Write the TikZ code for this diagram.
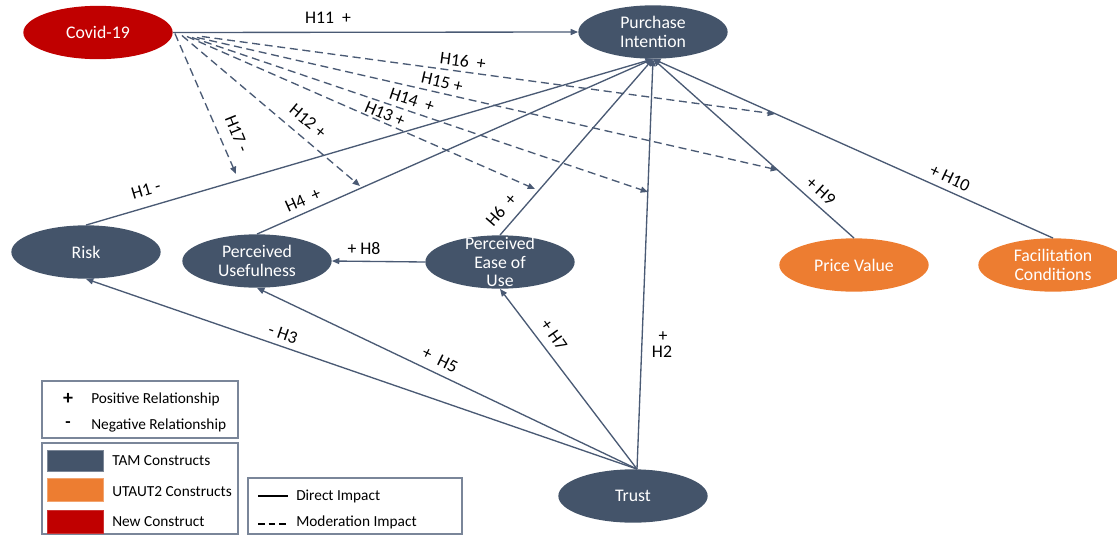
\documentclass[tikz,border=0pt]{standalone}
\usepackage{fontspec}
\setmainfont{Carlito}
\usetikzlibrary{shapes.geometric,arrows.meta,calc}
\definecolor{tamc}{HTML}{44546A}
\definecolor{utautc}{HTML}{ED7D31}
\definecolor{newcc}{HTML}{C00000}
\definecolor{edgec}{HTML}{4A5A74}
\definecolor{legc}{HTML}{7A8699}
\begin{document}
\begin{tikzpicture}[x=0.75pt,y=-0.75pt,
  every node/.style={inner sep=0pt},
  construct/.style={ellipse, minimum width=112pt, minimum height=40pt, text=white, align=center, font=\fontsize{13.3}{14}\selectfont},
  tam/.style={construct, fill=tamc},
  utaut/.style={construct, fill=utautc},
  newcon/.style={construct, fill=newcc},
  link/.style={draw=edgec, line width=1pt, -{Triangle[length=5.5pt,width=4.5pt]}},
  modlink/.style={link, dash pattern=on 6pt off 3.5pt},
  lab/.style={font=\fontsize{13.3}{14}\selectfont, text=black},
  legtext/.style={font=\fontsize{11.5}{12}\selectfont, anchor=west, text=black},
  legbox/.style={draw=legc, line width=0.8pt},
]
\useasboundingbox (0,0) rectangle (1117,536);

% constructs
\node[newcon] (covid) at (98,32.5) {Covid-19};
\node[tam] (pi) at (653,32) {Purchase\\Intention};
\node[tam] (risk) at (86,252) {Risk};
\node[tam] (pu) at (257,261) {Perceived\\Usefulness};
\node[tam, label={[name=peoutext, text=white, align=center, font=\fontsize{13.3}{14}\selectfont]center:{Perceived\\Ease of\\Use}}] (peou) at (500,262) {};
\node[utaut] (pv) at (854,265) {Price Value};
\node[utaut] (fc) at (1053,265) {Facilitation\\Conditions};
\node[tam] (trust) at (633,496) {Trust};
\coordinate (trusttop) at ($(trust.north)+(4,0)$);

% direct impacts
\draw[link] (covid.east) -- (pi.west);
\draw[link] (risk.north) -- (pi.south);
\draw[link] (pu.north) -- (pi.south);
\draw[link] (peou.north) -- (pi.south);
\draw[link] (trusttop) -- (pi.south);
\draw[link] (pv.north) -- (pi.south);
\draw[link] (fc.north) -- (pi.south);
\draw[link] (peou.west) -- (pu.east);
\draw[link] (trusttop) -- (risk.south);
\draw[link] (trusttop) -- (pu.south);
\draw[link] (trusttop) -- (peou.south);

% moderation impacts
\coordinate (e17) at (236,174);
\coordinate (e12) at (360,186);
\coordinate (e13) at (535,189);
\coordinate (e14) at (648,192);
\coordinate (e15) at (778,170);
\coordinate (e16) at (775,114);
\draw[modlink] ($(covid.east)+(2,1)$) -- (e17);
\draw[modlink] ($(covid.east)+(9,3)$) -- (e12);
\draw[modlink] ($(covid.east)+(14,4)$) -- (e13);
\draw[modlink] ($(covid.east)+(19,5)$) -- (e14);
\draw[modlink] ($(covid.east)+(24,5)$) -- (e15);
\draw[modlink] ($(covid.east)+(29,4)$) -- (e16);

% labels
\node[lab] (l11) at (328,18) {H11~~+};
\node[lab, rotate=-7.5] (l16) at (463,61) {H16~~+};
\node[lab, rotate=-13] (l15) at (442,82) {H15 +};
\node[lab, rotate=-18.5] (l14) at (412,100) {H14~~+};
\node[lab, rotate=-23] (l13) at (385,114) {H13 +};
\node[lab, rotate=-40] (l12) at (308,121) {H12 +};
\node[lab, rotate=-68] (l17) at (237,134) {H17 -};
\node[lab, rotate=16.5] (l1) at (146,190) {H1 -};
\node[lab, rotate=24] (l4) at (303,200) {H4~~+};
\node[lab, rotate=49] (l6) at (501,210) {H6~~+};
\node[lab, rotate=-42] (l9) at (821,191) {+ H9};
\node[lab, rotate=-25] (l10) at (950,178) {+ H10};
\node[lab] (l8) at (364,249) {+ H8};
\node[lab, rotate=-19] (l3) at (283,334) {- H3};
\node[lab, rotate=-26] (l5) at (440,360) {+~~H5};
\node[lab, rotate=-55] (l7) at (554,335) {+ H7};
\node[lab] (l2a) at (663,337) {+};
\node[lab] (l2b) at (662,352) {H2};

% legend: relationships
\draw[legbox] (42,381) rectangle (238,438);
\node[font=\bfseries\fontsize{15}{15}\selectfont] (plus) at (68,399) {+};
\node[font=\bfseries\fontsize{13}{13}\selectfont] (minus) at (68,425) {-};
\node[legtext] (postext) at (91,399) {Positive Relationship};
\node[legtext] (negtext) at (91,425) {Negative Relationship};

% legend: constructs
\draw[legbox] (42,443) rectangle (238,534);
\draw[fill=tamc, draw=tamc!70!white, line width=0.6pt] (47,450) rectangle (103,471);
\draw[fill=utautc, draw=utautc!70!white, line width=0.6pt] (47,478) rectangle (103,501);
\draw[fill=newcc, draw=newcc!80!white, line width=0.6pt] (47,510) rectangle (103,533);
\node[legtext] (tamtext) at (112,461) {TAM Constructs};
\node[legtext] (utauttext) at (112,492) {UTAUT2 Constructs};
\node[legtext] (newtext) at (112,522) {New Construct};

% legend: impacts
\draw[legbox] (248,478) rectangle (462,534);
\draw[black, line width=1pt] (258,496) -- (288,496);
\draw[black, line width=1pt, dash pattern=on 5pt off 3pt] (258,524) -- (288,524);
\node[legtext] (directtext) at (296,496) {Direct Impact};
\node[legtext] (modtext) at (296,522) {Moderation Impact};
\end{tikzpicture}
\end{document}
